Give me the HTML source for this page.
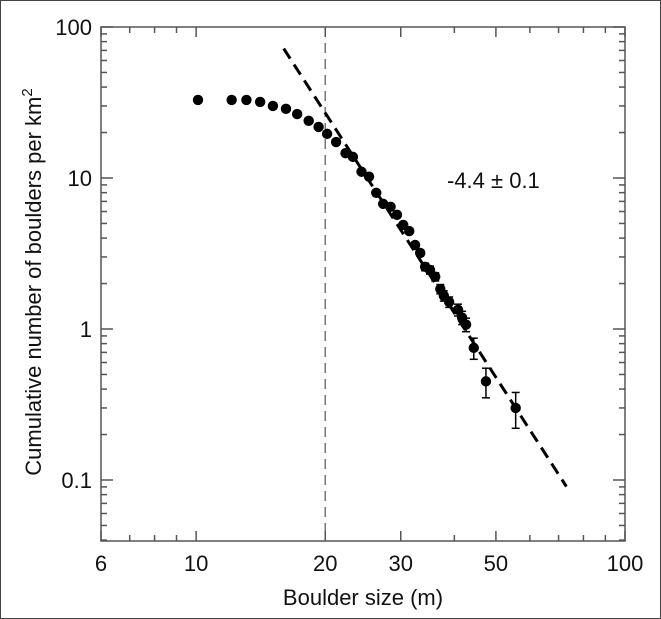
<!DOCTYPE html>
<html><head><meta charset="utf-8"><style>
html,body{margin:0;padding:0;background:#fff;}
svg{display:block;font-family:"Liberation Sans",sans-serif;}
</style></head><body>
<svg id="chart" width="661" height="619" viewBox="0 0 661 619" xmlns="http://www.w3.org/2000/svg">
<rect x="0.5" y="0.5" width="660" height="618" fill="#fff" stroke="#444" stroke-width="1"/>
<g id="g"></g>
</svg>
<script>
const sizes=[10.1,12.1,13.1,14.1,15.1,16.2,17.2,18.3,19.3,20.2,21.2,22.3,23.2,24.3,25.3,26.3,27.3,28.4,29.4,30.4,31.4,32.4,33.3,34.2,35.1,36.1,37.1,37.8,38.9,40.8,41.7,42.6,44.4,47.4,55.6];
const counts=[32.9,32.9,32.9,31.9,30.0,28.7,26.5,23.9,21.8,19.6,17.3,14.6,13.8,11.0,10.2,7.98,6.74,6.44,5.70,4.89,4.45,3.60,3.19,2.58,2.46,2.22,1.84,1.66,1.51,1.34,1.19,1.07,0.75,0.45,0.30];
const errors=[0,0,0,0,0,0,0,0,0,0,0,0,0,0,0,0,0,0,0,0,0,0.15,0.15,0.15,0.15,0.14,0.13,0.13,0.12,0.12,0.12,0.11,0.12,0.10,0.08];
const fitSlope=-4.4, fitRef=[16,72], fitRange=[16,73];
const xTicks=[6,10,20,30,50,100], xTickLabels=["6","10","20","30","50","100"];
const xMinor=[7,8,9,40,60,70,80,90];
const yTicks=[0.1,1,10,100], yTickLabels=["0.1","1","10","100"];
const cutoff=20;

const L=101,R=625,T=27,B=541;
const xmin=6,xmax=100;
const X=v=>L+(Math.log10(v)-Math.log10(xmin))/(Math.log10(xmax)-Math.log10(xmin))*(R-L);
const Y=v=>T+151*(2-Math.log10(v));
const ymin=Math.pow(10,2-(B-T)/151);
const g=document.getElementById('g');
const NS='http://www.w3.org/2000/svg';
function mk(tag,at,name,parent){const e=document.createElementNS(NS,tag);for(const k in at)e.setAttribute(k,at[k]);


(parent||g).appendChild(e);return e;}
mk('line',{x1:X(cutoff),x2:X(cutoff),y1:T,y2:B,stroke:'#777','stroke-width':1.5,'stroke-dasharray':'10,6'},'cutoff-line');
mk('rect',{x:L,y:T,width:R-L,height:B-T,fill:'none',stroke:'#555','stroke-width':1.5},'plot-frame');
xTicks.forEach((v,i)=>{const x=X(v);
 mk('line',{x1:x,x2:x,y1:B,y2:B-10,stroke:'#555','stroke-width':1.5},'x-major-tick');
 mk('line',{x1:x,x2:x,y1:T,y2:T+10,stroke:'#555','stroke-width':1.5},'x-major-tick-top');
 const t=mk('text',{x:x,y:B+30,'font-size':22,'text-anchor':'middle',fill:'#111'},'x-tick-label');t.textContent=xTickLabels[i];});
xMinor.forEach(v=>{const x=X(v);
 mk('line',{x1:x,x2:x,y1:B,y2:B-6,stroke:'#555','stroke-width':1.5},'x-minor-tick');
 mk('line',{x1:x,x2:x,y1:T,y2:T+6,stroke:'#555','stroke-width':1.5},'x-minor-tick-top');});
yTicks.forEach((v,i)=>{const y=Y(v);
 mk('line',{x1:L,x2:L+12,y1:y,y2:y,stroke:'#555','stroke-width':1.5},'y-major-tick');
 mk('line',{x1:R,x2:R-12,y1:y,y2:y,stroke:'#555','stroke-width':1.5},'y-major-tick-right');
 const t=mk('text',{x:L-9,y:y+8,'font-size':22,'text-anchor':'end',fill:'#111'},'y-tick-label');t.textContent=yTickLabels[i];});
for(let d=-2;d<2;d++)for(let m=2;m<10;m++){const v=m*Math.pow(10,d);if(v<ymin||v>100)continue;const y=Y(v);
 mk('line',{x1:L,x2:L+6,y1:y,y2:y,stroke:'#555','stroke-width':1.5},'y-minor-tick');
 mk('line',{x1:R,x2:R-6,y1:y,y2:y,stroke:'#555','stroke-width':1.5},'y-minor-tick-right');}
const A=fitRef[1]/Math.pow(fitRef[0],fitSlope);
const f=d=>A*Math.pow(d,fitSlope);
mk('line',{x1:X(fitRange[0]),y1:Y(f(fitRange[0])),x2:X(fitRange[1]),y2:Y(f(fitRange[1])),stroke:'#000','stroke-width':3,'stroke-dasharray':'12,7'},'power-law-fit-line');
sizes.forEach((s,i)=>{const x=X(s),c=counts[i],e=errors[i];
 if(e>0){const y1=Y(c+e),y2=Y(c-e);
  mk('line',{x1:x,x2:x,y1:y1,y2:y2,stroke:'#000','stroke-width':1.5},'error-bar');
  mk('line',{x1:x-4,x2:x+4,y1:y1,y2:y1,stroke:'#000','stroke-width':1.5},'error-cap');
  mk('line',{x1:x-4,x2:x+4,y1:y2,y2:y2,stroke:'#000','stroke-width':1.5},'error-cap');}
 mk('circle',{cx:x,cy:Y(c),r:5.2,fill:'#000'},'data-point');});
let t=mk('text',{x:447,y:188,'font-size':22,fill:'#111'},'slope-annotation');t.textContent='-4.4 ± 0.1';
t=mk('text',{x:363,y:605,'font-size':22,'text-anchor':'middle',fill:'#111'},'x-axis-title');t.textContent='Boulder size (m)';
t=mk('text',{x:0,y:0,'font-size':22,'text-anchor':'middle',fill:'#111',transform:'translate(41,282) rotate(-90)'},'y-axis-title');
t.innerHTML='Cumulative number of boulders per km<tspan dy="-9" font-size="15">2</tspan>';
</script>
</body></html>
